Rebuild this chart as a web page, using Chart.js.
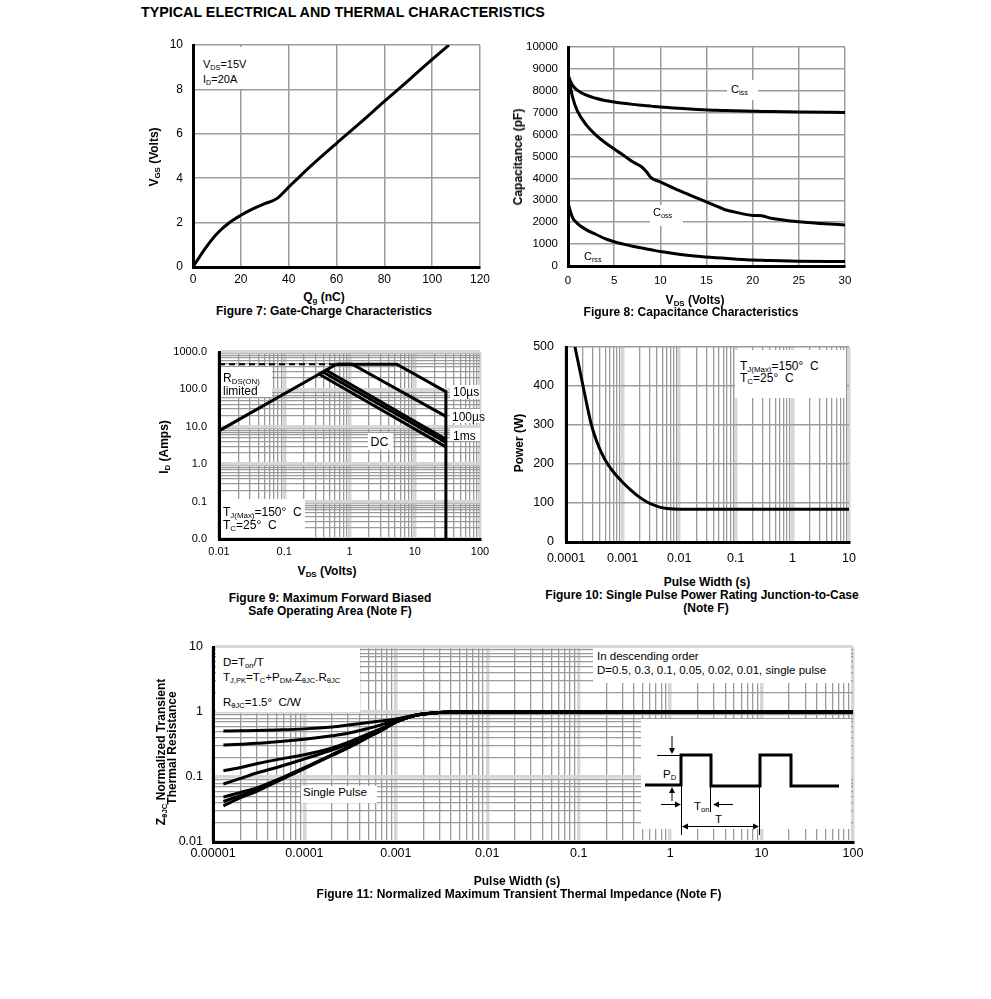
<!DOCTYPE html>
<html><head><meta charset="utf-8">
<script src="https://cdn.jsdelivr.net/npm/chart.js@4.4.1/dist/chart.umd.min.js"></script>
<style>
body{margin:0;background:#fff;width:991px;height:999px;position:relative;overflow:hidden;font-family:'Liberation Sans',Arial,sans-serif;color:#000}
canvas{position:absolute}
.t{position:absolute;white-space:nowrap;line-height:1}
.b{font-weight:bold}
.c{transform:translateX(-50%)}
.box{position:absolute;background:#fff}
sub{font-size:66%;vertical-align:baseline;position:relative;top:0.3em;line-height:0}
.rot{position:absolute;line-height:1;white-space:nowrap;font-weight:bold;transform:translate(-50%,-50%) rotate(-90deg)}
svg{position:absolute;left:0;top:0}
</style></head><body>
<div id="charts"></div>

<div class="t b" style="left:141px;top:5px;font-size:14.3px">TYPICAL ELECTRICAL AND THERMAL CHARACTERISTICS</div>

<!-- Figure 7 -->
<div class="box" style="left:196px;top:47px;width:77px;height:42px"></div>
<div class="t" style="left:203px;top:58.5px;font-size:11px">V<sub>DS</sub>=15V</div>
<div class="t" style="left:203px;top:73.5px;font-size:11px">I<sub>D</sub>=20A</div>
<div class="rot" style="left:154px;top:157px;font-size:12px">V<sub>GS</sub> (Volts)</div>
<div class="t b c" style="left:324px;top:290.5px;font-size:12px">Q<sub>g</sub> (nC)</div>
<div class="t b c" style="left:324px;top:304.5px;font-size:12px">Figure 7: Gate-Charge Characteristics</div>

<!-- Figure 8 -->
<div class="box" style="left:727px;top:80px;width:31px;height:20px"></div>
<div class="t" style="left:731px;top:83.5px;font-size:11px">C<sub>iss</sub></div>
<div class="box" style="left:650px;top:205px;width:33px;height:21px"></div>
<div class="t" style="left:653px;top:206.5px;font-size:11px">C<sub>oss</sub></div>
<div class="t" style="left:584px;top:250.5px;font-size:11px">C<sub>rss</sub></div>
<div class="rot" style="left:518px;top:157px;font-size:12px">Capacitance (pF)</div>
<div class="t b c" style="left:695px;top:293.5px;font-size:12px">V<sub>DS</sub> (Volts)</div>
<div class="t b c" style="left:691px;top:306px;font-size:12px">Figure 8: Capacitance Characteristics</div>

<!-- Figure 9 -->
<div class="box" style="left:221px;top:367px;width:51px;height:30px"></div>
<div class="t" style="left:223px;top:371.5px;font-size:12px">R<sub>DS(ON)</sub></div>
<div class="t" style="left:223px;top:384.5px;font-size:12px">limited</div>
<div class="box" style="left:221px;top:499px;width:84px;height:38px"></div>
<div class="t" style="left:223px;top:505.5px;font-size:12px">T<sub>J(Max)</sub>=150°&nbsp; C</div>
<div class="t" style="left:223px;top:518.5px;font-size:12px">T<sub>C</sub>=25°&nbsp; C</div>
<div class="box" style="left:368px;top:433px;width:25px;height:17px"></div>
<div class="t" style="left:370.5px;top:435.5px;font-size:12.5px">DC</div>
<div class="box" style="left:450px;top:385px;width:30px;height:14px"></div>
<div class="t" style="left:453px;top:385.5px;font-size:12px">10µs</div>
<div class="box" style="left:450px;top:409px;width:30px;height:14px"></div>
<div class="t" style="left:452px;top:410.5px;font-size:12px">100µs</div>
<div class="box" style="left:450px;top:428px;width:30px;height:13px"></div>
<div class="t" style="left:453px;top:430px;font-size:12px">1ms</div>
<div class="rot" style="left:164px;top:447px;font-size:12px">I<sub>D</sub> (Amps)</div>
<div class="t b c" style="left:327px;top:565px;font-size:12px">V<sub>DS</sub> (Volts)</div>
<div class="t b c" style="left:330px;top:592px;font-size:12px">Figure 9: Maximum Forward Biased</div>
<div class="t b c" style="left:330px;top:605px;font-size:12px">Safe Operating Area (Note F)</div>

<!-- Figure 10 -->
<div class="box" style="left:735px;top:350px;width:111px;height:48px"></div>
<div class="t" style="left:740px;top:359.5px;font-size:12px">T<sub>J(Max)</sub>=150°&nbsp; C</div>
<div class="t" style="left:740px;top:371.5px;font-size:12px">T<sub>C</sub>=25°&nbsp; C</div>
<div class="rot" style="left:519px;top:443px;font-size:12px">Power (W)</div>
<div class="t b c" style="left:707px;top:576px;font-size:12px">Pulse Width (s)</div>
<div class="t b c" style="left:702px;top:589px;font-size:12px">Figure 10: Single Pulse Power Rating Junction-to-Case</div>
<div class="t b c" style="left:706px;top:602px;font-size:12px">(Note F)</div>

<!-- Figure 11 -->
<div class="box" style="left:216px;top:648px;width:144px;height:64px"></div>
<div class="t" style="left:223px;top:656.5px;font-size:11.5px">D=T<sub>on</sub>/T</div>
<div class="t" style="left:223px;top:671.5px;font-size:11.5px">T<sub>J,PK</sub>=T<sub>C</sub>+P<sub>DM</sub>.Z<sub>θJC</sub>.R<sub>θJC</sub></div>
<div class="t" style="left:223px;top:696.5px;font-size:11.5px">R<sub>θJC</sub>=1.5°&nbsp; C/W</div>
<div class="box" style="left:593px;top:648px;width:258px;height:35px"></div>
<div class="t" style="left:597px;top:650.5px;font-size:11.5px">In descending order</div>
<div class="t" style="left:597px;top:664.5px;font-size:11.5px">D=0.5, 0.3, 0.1, 0.05, 0.02, 0.01, single pulse</div>
<div class="box" style="left:301px;top:786px;width:76px;height:17px"></div>
<div class="t" style="left:303px;top:786.5px;font-size:11.5px">Single Pulse</div>
<div class="box" style="left:641px;top:719px;width:210px;height:110px"></div>
<svg width="991" height="999" viewBox="0 0 991 999">
  <polyline points="645,785 681,785 681,755 711,755 711,786 760,786 760,755 791,755 791,786 839,786" stroke="#000" stroke-width="3" fill="none"/>
  <g stroke="#000" stroke-width="1" fill="none">
    <line x1="657" y1="755.5" x2="681" y2="755.5"/>
    <line x1="672" y1="736" x2="672" y2="749"/>
    <line x1="672" y1="801" x2="672" y2="792"/>
    <line x1="661" y1="804.5" x2="676" y2="804.5"/>
    <line x1="718" y1="804.5" x2="733" y2="804.5"/>
    <line x1="681.5" y1="786" x2="681.5" y2="835"/>
    <line x1="710.5" y1="786" x2="710.5" y2="812"/>
    <line x1="759.5" y1="786" x2="759.5" y2="835"/>
    <line x1="686" y1="826.5" x2="755" y2="826.5"/>
  </g>
  <g fill="#000">
    <polygon points="669,748 675,748 672,754"/>
    <polygon points="669,793 675,793 672,787"/>
    <polygon points="675,801.5 675,807.5 681,804.5"/>
    <polygon points="719,801.5 719,807.5 713,804.5"/>
    <polygon points="688,823.5 688,829.5 682,826.5"/>
    <polygon points="753,823.5 753,829.5 759,826.5"/>
  </g>
</svg>
<div class="t" style="left:663px;top:768.5px;font-size:11.5px">P<sub>D</sub></div>
<div class="t" style="left:694px;top:800.5px;font-size:11.5px">T<sub>on</sub></div>
<div class="t" style="left:715px;top:813.5px;font-size:11.5px">T</div>
<div class="rot" style="left:161px;top:752px;font-size:12px">Z<sub>θJC</sub> Normalized Transient</div>
<div class="rot" style="left:172px;top:748px;font-size:12px">Thermal Resistance</div>
<div class="t b c" style="left:517px;top:874.5px;font-size:12px">Pulse Width (s)</div>
<div class="t b c" style="left:519px;top:887.5px;font-size:12px">Figure 11: Normalized Maximum Transient Thermal Impedance (Note F)</div>

<script>
// ---------- Figure 7: gate charge ----------
const gateQg  = [0, 5, 10, 15, 20, 25, 30, 35, 40, 45, 50, 60, 70, 80, 90, 100, 107];
const gateVgs = [0, 0.82, 1.5, 1.98, 2.33, 2.62, 2.85, 3.08, 3.6, 4.12, 4.62, 5.57, 6.5, 7.46, 8.4, 9.35, 10];
const gateXTicks = [0, 20, 40, 60, 80, 100, 120];
const gateYTicks = [0, 2, 4, 6, 8, 10];

// ---------- Figure 8: capacitance ----------
const capVds  = [0, 0.25, 0.5, 1, 2, 3, 4, 5, 6, 7, 8, 8.5, 9, 10, 12, 14, 16, 17, 18, 20, 21, 22, 25, 30];
const capCiss = [8750, 8450, 8250, 8030, 7800, 7660, 7560, 7490, 7430, 7380, 7340, 7320, 7300, 7260, 7200, 7150, 7110, 7100, 7090, 7070, 7060, 7050, 7030, 7010];
const capCoss = [8750, 8200, 7700, 7100, 6430, 5990, 5640, 5340, 5060, 4760, 4520, 4300, 4030, 3840, 3450, 3100, 2750, 2570, 2470, 2310, 2290, 2180, 2020, 1870];
const capCrss = [2900, 2500, 2200, 1950, 1650, 1450, 1250, 1110, 1000, 900, 820, 780, 740, 660, 540, 450, 380, 350, 320, 270, 260, 250, 220, 200];
const capXTicks = [0, 5, 10, 15, 20, 25, 30];
const capYTicks = [0, 1000, 2000, 3000, 4000, 5000, 6000, 7000, 8000, 9000, 10000];

// ---------- Figure 9: SOA ----------
const soaRdsV   = [0.01, 0.63];      const soaRdsI   = [7.8, 470];
const soaDashV  = [0.01, 0.63];      const soaDashI  = [470, 470];
const soa10usV  = [0.63, 5.3, 30, 30]; const soa10usI = [470, 470, 87, 0.01];
const soa100usV = [0.63, 1.1, 30];   const soa100usI = [470, 470, 19];
const soa1msV   = [0.42, 30];        const soa1msI   = [340, 4.6];
const soa10msV  = [0.38, 30];        const soa10msI  = [300, 3.8];
const soaDcV    = [0.33, 30];        const soaDcI    = [265, 2.9];
const soaXDecades = [0.01, 0.1, 1, 10, 100];
const soaXLabels  = ['0.01', '0.1', '1', '10', '100'];
const soaYDecades = [0.01, 0.1, 1, 10, 100, 1000];
const soaYLabels  = ['0.0', '0.1', '1.0', '10.0', '100.0', '1000.0'];

// ---------- Figure 10: single pulse power ----------
const pulseWidth = [1.44e-4, 1.7e-4, 2e-4, 2.34e-4, 2.76e-4, 3.39e-4, 4.26e-4, 5.6e-4, 7.5e-4, 1.02e-3, 1.4e-3, 1.9e-3, 2.6e-3, 3.5e-3, 4.5e-3, 6e-3, 1e-2, 10];
const pulsePower = [500, 450, 400, 352, 305, 263, 228, 197, 173, 152, 133, 117, 104, 95, 89.5, 86, 84, 84];
const pwrXDecades = [1e-4, 1e-3, 1e-2, 1e-1, 1, 10];
const pwrXLabels  = ['0.0001', '0.001', '0.01', '0.1', '1', '10'];
const pwrYTicks   = [0, 100, 200, 300, 400, 500];

// ---------- Figure 11: transient thermal impedance ----------
const zthT    = [1.3e-5, 2e-5, 3e-5, 5e-5, 1e-4, 2e-4, 3e-4, 5e-4, 7e-4, 1e-3, 1.5e-3, 2e-3, 3e-3, 4e-3, 1e-2, 100];
const zthD050 = [0.51, 0.515, 0.52, 0.53, 0.55, 0.59, 0.63, 0.69, 0.73, 0.78, 0.88, 0.94, 0.985, 1, 1, 1];
const zthD030 = [0.31, 0.32, 0.33, 0.35, 0.38, 0.43, 0.47, 0.56, 0.64, 0.74, 0.87, 0.93, 0.985, 1, 1, 1];
const zthD010 = [0.125, 0.14, 0.16, 0.185, 0.22, 0.28, 0.34, 0.46, 0.56, 0.72, 0.86, 0.93, 0.985, 1, 1, 1];
const zthD005 = [0.078, 0.095, 0.115, 0.14, 0.19, 0.26, 0.32, 0.44, 0.54, 0.71, 0.86, 0.93, 0.985, 1, 1, 1];
const zthD002 = [0.049, 0.058, 0.068, 0.09, 0.14, 0.22, 0.29, 0.42, 0.53, 0.70, 0.86, 0.93, 0.985, 1, 1, 1];
const zthD001 = [0.042, 0.052, 0.063, 0.087, 0.137, 0.218, 0.285, 0.415, 0.53, 0.70, 0.86, 0.93, 0.985, 1, 1, 1];
const zthSingle = [0.036, 0.048, 0.06, 0.085, 0.135, 0.215, 0.28, 0.41, 0.52, 0.70, 0.86, 0.93, 0.985, 1, 1, 1];
const zthXDecades = [1e-5, 1e-4, 1e-3, 1e-2, 1e-1, 1, 10, 100];
const zthXLabels  = ['0.00001', '0.0001', '0.001', '0.01', '0.1', '1', '10', '100'];
const zthYDecades = [0.01, 0.1, 1, 10];
const zthYLabels  = ['0.01', '0.1', '1', '10'];

Chart.defaults.font.family = "'Liberation Sans', Arial, sans-serif";
Chart.defaults.color = '#000';

function series(xs, ys, extra) {
  return Object.assign({
    data: xs.map((x, i) => ({ x: x, y: ys[i] })),
    borderColor: '#000', borderWidth: 3, pointRadius: 0, fill: false,
    cubicInterpolationMode: 'monotone'
  }, extra || {});
}
const straight = { cubicInterpolationMode: 'default', tension: 0 };

function linAxis(min, max, tickArr, fs, pad) {
  return {
    type: 'linear', min: min, max: max,
    afterBuildTicks: s => { s.ticks = tickArr.map(v => ({ value: v })); },
    ticks: { color: '#000', font: { size: fs }, padding: pad, maxRotation: 0, minRotation: 0, autoSkip: false,
      callback: v => String(v) },
    grid: { color: '#9c9c9c', lineWidth: 1.5, drawTicks: false },
    border: { color: '#000', width: 3 }
  };
}

function logAxis(decades, labels, fs, pad) {
  const list = [];
  decades.forEach((d, i) => {
    list.push({ value: d, major: true, lbl: labels[i] });
    if (i < decades.length - 1) for (let m = 2; m <= 9; m++) list.push({ value: m * d, major: false, lbl: '' });
  });
  return {
    type: 'logarithmic', min: decades[0], max: decades[decades.length - 1],
    afterBuildTicks: s => { s.ticks = list.map(t => Object.assign({}, t)); },
    ticks: { color: '#000', font: { size: fs }, padding: pad, maxRotation: 0, minRotation: 0, autoSkip: false,
      callback: (v, i, t) => (t[i] && t[i].lbl) || '' },
    grid: {
      color: c => (c.tick && c.tick.major) ? '#d6d6d6' : '#9a9a9a',
      lineWidth: c => (c.tick && c.tick.major) ? 3.5 : 1.3,
      drawTicks: false
    },
    border: { color: '#000', width: 3 }
  };
}

function buildChart(rect, plot, datasets, xs, ys) {
  const c = document.createElement('canvas');
  const w = rect[2] - rect[0], h = rect[3] - rect[1];
  c.width = w; c.height = h;
  c.style.left = rect[0] + 'px'; c.style.top = rect[1] + 'px';
  c.style.width = w + 'px'; c.style.height = h + 'px';
  document.getElementById('charts').appendChild(c);
  const yW = plot[0] - rect[0], xH = rect[3] - plot[3];
  const zero = s => { s.paddingLeft = 0; s.paddingRight = 0; s.paddingTop = 0; s.paddingBottom = 0; };
  xs.afterFit = s => { s.height = xH; zero(s); };
  ys.afterFit = s => { s.width = yW; zero(s); };
  return new Chart(c, {
    type: 'line',
    data: { datasets: datasets },
    options: {
      responsive: false, animation: false, events: [],
      layout: { padding: { left: 0, top: plot[1] - rect[1], right: rect[2] - plot[2], bottom: 0 } },
      plugins: { legend: { display: false }, tooltip: { enabled: false } },
      scales: { x: xs, y: ys }
    }
  });
}

// Figure 7
buildChart([140, 30, 505, 290], [193, 45, 480, 267],
  [series(gateQg, gateVgs)],
  linAxis(0, 120, gateXTicks, 12, 5),
  linAxis(0, 10, gateYTicks, 12, 10));

// Figure 8
buildChart([505, 30, 870, 290], [568, 47, 845, 266],
  [series(capVds, capCiss), series(capVds, capCoss), series(capVds, capCrss)],
  linAxis(0, 30, capXTicks, 11.5, 8),
  linAxis(0, 10000, capYTicks, 11.5, 10));

// Figure 9
buildChart([160, 340, 495, 560], [219, 352, 480, 539],
  [series(soaDashV, soaDashI, Object.assign({ borderWidth: 2, borderDash: [6, 4] }, straight)),
   series(soaRdsV, soaRdsI, straight),
   series(soa10usV, soa10usI, straight),
   series(soa100usV, soa100usI, straight),
   series(soa1msV, soa1msI, straight),
   series(soa10msV, soa10msI, straight),
   series(soaDcV, soaDcI, straight)],
  logAxis(soaXDecades, soaXLabels, 11, 6),
  logAxis(soaYDecades, soaYLabels, 11, 12));

// Figure 10
buildChart([505, 335, 870, 565], [566, 347, 849, 542],
  [series(pulseWidth, pulsePower)],
  logAxis(pwrXDecades, pwrXLabels, 12.5, 9),
  linAxis(0, 500, pwrYTicks, 12.5, 12));

// Figure 11
buildChart([150, 635, 875, 865], [213, 647, 853, 842],
  [series(zthT, zthD050), series(zthT, zthD030), series(zthT, zthD010), series(zthT, zthD005),
   series(zthT, zthD002), series(zthT, zthD001), series(zthT, zthSingle)],
  logAxis(zthXDecades, zthXLabels, 12.5, 4),
  logAxis(zthYDecades, zthYLabels, 12.5, 10));
</script>
</body></html>
